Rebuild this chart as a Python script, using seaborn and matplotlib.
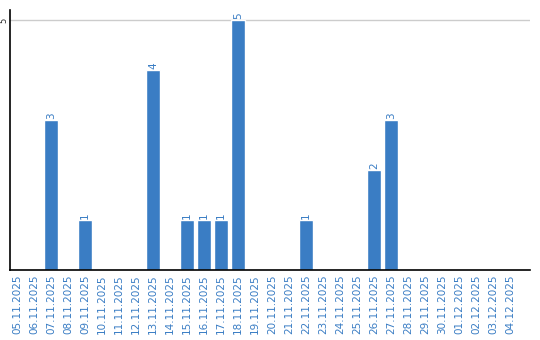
import matplotlib
matplotlib.use("Agg")
import matplotlib.pyplot as plt
import seaborn as sns
import pandas as pd

dates = ["05.11.2025", "06.11.2025", "07.11.2025", "08.11.2025", "09.11.2025",
         "10.11.2025", "11.11.2025", "12.11.2025", "13.11.2025", "14.11.2025",
         "15.11.2025", "16.11.2025", "17.11.2025", "18.11.2025", "19.11.2025",
         "20.11.2025", "21.11.2025", "22.11.2025", "23.11.2025", "24.11.2025",
         "25.11.2025", "26.11.2025", "27.11.2025", "28.11.2025", "29.11.2025",
         "30.11.2025", "01.12.2025", "02.12.2025", "03.12.2025", "04.12.2025"]
counts = [0, 0, 3, 0, 1, 0, 0, 0, 4, 0,
          1, 1, 1, 5, 0, 0, 0, 1, 0, 0,
          0, 2, 3, 0, 0, 0, 0, 0, 0, 0]

df = pd.DataFrame({"date": dates, "count": counts})

sns.set_style("white")
plt.rcParams['font.family'] = ['DejaVu Sans']

color = "#3a7dc4"
fig = plt.figure(figsize=(5.4, 3.4), dpi=100)
ax = fig.add_axes([10/540, 1-270/340, 520/540, 260/340])
sns.barplot(data=df, x="date", y="count", color=color, saturation=1, width=0.82, ax=ax)

ax.set_ylim(0, 5.2)
ax.set_xlim(-0.41, 30.18)
ax.set_yticks([5])
ax.set_yticklabels(["5"], rotation=90, va="center", fontsize=6)
ax.yaxis.grid(True, color="#cccccc", linewidth=1)
ax.set_axisbelow(True)
ax.tick_params(axis="y", length=0, pad=1)
ax.tick_params(axis="x", length=0, pad=3, labelcolor=color, labelsize=7.5, rotation=90)
ax.set_xlabel("")
ax.set_ylabel("")

for s in ["top", "right"]:
    ax.spines[s].set_visible(False)
for s in ["left", "bottom"]:
    ax.spines[s].set_color("black")
    ax.spines[s].set_linewidth(1.2)

for i, v in enumerate(counts):
    if v > 0:
        ax.text(i, v + 0.02, str(v), rotation=90, ha="center", va="bottom",
                color=color, fontsize=7.5)

fig.savefig("out.png", dpi=100)
